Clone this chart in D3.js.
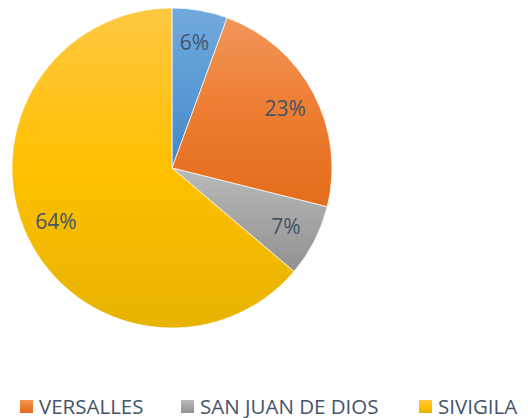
<!DOCTYPE html>
<html>
<head>
<meta charset="utf-8">
<script src="https://cdn.jsdelivr.net/npm/d3@7"></script>
<style>
  body { margin: 0; background: #fff; }
  text { font-family: "Open Sans", sans-serif; fill: #44546a; }
</style>
</head>
<body>
<div id="wrapper"></div>
<script>
// slices, clockwise from 12 o'clock
const categories = ["", "VERSALLES", "SAN JUAN DE DIOS", "SIVIGILA"];
const values = [5.6, 23.3, 7.3, 63.8];
const labels = ["6%", "23%", "7%", "64%"];
const topColors = ["#72a9de", "#f19659", "#bababa", "#ffc843"];
const midColors = ["#5b9bd5", "#ed7d31", "#a5a5a5", "#ffc000"];
const bottomColors = ["#4684c6", "#e36c1b", "#919191", "#e6b300"];
const legendItems = [1, 2, 3]; // only these entries show in the legend

const width = 528;
const height = 418;
const cx = 172, cy = 168, radius = 160;

const svg = d3.select("#wrapper")
  .append("svg")
  .attr("width", width)
  .attr("height", height);

const defs = svg.append("defs");
values.forEach(function(v, i) {
  const g = defs.append("linearGradient")
    .attr("id", "grad" + i)
    .attr("x1", 0).attr("y1", 0)
    .attr("x2", 0).attr("y2", 1);
  g.append("stop").attr("offset", "0%").attr("stop-color", topColors[i]);
  g.append("stop").attr("offset", "50%").attr("stop-color", midColors[i]);
  g.append("stop").attr("offset", "100%").attr("stop-color", bottomColors[i]);
});

const pie = d3.pie().sort(null).value(function(d) { return d; });
const arcs = pie(values);

const arc = d3.arc().innerRadius(0).outerRadius(radius);
const labelArc = d3.arc().innerRadius(256 - radius).outerRadius(radius);

const chart = svg.append("g").attr("transform", "translate(" + cx + "," + cy + ")");

chart.selectAll("path")
  .data(arcs)
  .enter().append("path")
  .attr("d", arc)
  .attr("fill", function(d, i) { return "url(#grad" + i + ")"; })
  .attr("stroke", "#fff")
  .attr("stroke-width", 0.7);

chart.selectAll(".lbl")
  .data(arcs)
  .enter().append("text")
  .attr("class", "lbl")
  .attr("transform", function(d) { return "translate(" + labelArc.centroid(d) + ")"; })
  .attr("text-anchor", "middle")
  .attr("dy", "0.36em")
  .style("font-size", "21px")
  .text(function(d, i) { return labels[i]; });

// legend
const legendX = [20, 181, 419];
const legend = svg.append("g");
legendItems.forEach(function(idx, k) {
  const item = legend.append("g").attr("transform", "translate(" + legendX[k] + ",400)");
  item.append("rect")
    .attr("width", 13).attr("height", 13)
    .attr("fill", "url(#grad" + idx + ")");
  item.append("text")
    .attr("x", 19)
    .attr("y", 13.5)
    .style("font-size", "20.5px")
    .text(categories[idx]);
});
</script>
</body>
</html>
